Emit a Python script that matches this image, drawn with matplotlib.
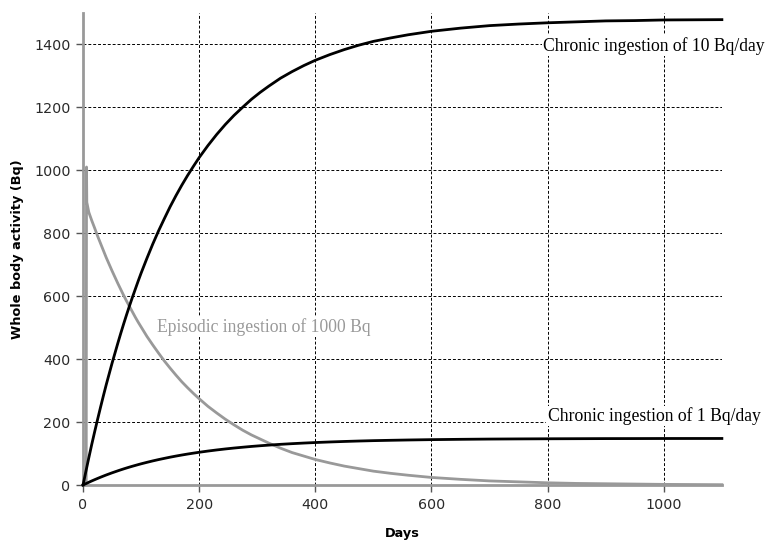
import matplotlib
matplotlib.use("Agg")
import matplotlib.pyplot as plt

days = [0, 5, 10, 15, 20, 25, 30, 35, 40, 45, 50, 55, 60, 65, 70, 75, 80, 85, 90, 95, 100,
        110, 120, 130, 140, 150, 160, 170, 180, 190, 200, 215, 230, 245, 260, 275, 290, 305,
        320, 340, 360, 380, 400, 425, 450, 475, 500, 530, 560, 600, 650, 700, 750, 800,
        850, 900, 950, 1000, 1050, 1100]
chronic10 = [0, 44, 87, 129, 169, 208, 246, 283, 319, 353, 387, 419, 451, 482, 512, 541, 569,
             596, 622, 648, 673, 720, 765, 807, 846, 884, 919, 952, 983, 1012, 1040, 1078, 1113,
             1145, 1174, 1200, 1225, 1247, 1267, 1292, 1313, 1332, 1349, 1367, 1383, 1397, 1409,
             1420, 1430, 1441, 1451, 1459, 1464, 1468, 1471, 1474, 1475, 1477, 1477.5, 1478]
chronic1 = [0, 4.4, 8.7, 12.9, 16.9, 20.8, 24.6, 28.3, 31.9, 35.3, 38.7, 41.9, 45.1, 48.2, 51.2,
            54.1, 56.9, 59.6, 62.2, 64.8, 67.3, 72.0, 76.5, 80.7, 84.6, 88.4, 91.9, 95.2, 98.3,
            101.2, 104, 107.8, 111.3, 114.5, 117.4, 120, 122.5, 124.7, 126.7, 129.2, 131.3, 133.2,
            134.9, 136.7, 138.3, 139.7, 140.9, 142.0, 143.0, 144.1, 145.1, 145.9, 146.4, 146.8,
            147.1, 147.4, 147.5, 147.7, 147.75, 147.8]
epi_days = [0, 5.5, 6, 6.5, 10, 15, 20, 25, 30, 35, 40, 45, 50, 55, 60, 65, 70, 75, 80, 85, 90, 95,
            100, 110, 120, 130, 140, 150, 160, 170, 180, 190, 200, 215, 230, 245, 260, 275, 290,
            305, 320, 340, 360, 380, 400, 425, 450, 475, 500, 530, 560, 600, 650, 700, 750, 800,
            850, 900, 950, 1000, 1050, 1100]
episodic = [0, 0, 1010, 898, 866, 840, 816, 791, 768, 745, 722, 701, 680, 660, 640, 621, 602, 584,
            567, 550, 533, 517, 502, 472, 445, 419, 394, 371, 349, 328, 309, 291, 274, 250, 229,
            209, 191, 174, 159, 146, 133, 117, 103, 92, 81, 70, 60, 52, 44, 37, 31, 24, 18, 13,
            10, 7, 5, 4, 3, 2, 1.5, 1]

xticks = [0, 200, 400, 600, 800, 1000]
yticks = [0, 200, 400, 600, 800, 1000, 1200, 1400]

fig = plt.figure(figsize=(7.66, 5.41), dpi=100)
ax = fig.add_axes([0.1084, 0.1035, 0.834, 0.873])

gray = "#999999"
ax.plot(epi_days, episodic, color=gray, lw=2, zorder=3, clip_on=False)
ax.plot(days, chronic10, color="black", lw=2, zorder=4, clip_on=False)
ax.plot(days, chronic1, color="black", lw=2, zorder=4, clip_on=False)

ax.set_xlim(0, 1100)
ax.set_ylim(0, 1500)
ax.set_xticks(xticks)
ax.set_yticks(yticks)
ax.grid(True, color="black", linestyle=(0, (3, 2)), linewidth=0.7, zorder=1)
ax.set_axisbelow(True)

for s in ["top", "right"]:
    ax.spines[s].set_visible(False)
for s in ["left", "bottom"]:
    ax.spines[s].set_color(gray)
    ax.spines[s].set_linewidth(2)
    ax.spines[s].set_zorder(2)

ax.tick_params(axis="both", direction="out", length=5, width=1, color="#555555",
               labelsize=10.3, labelcolor="#2a2a2a", pad=4)

ax.set_xlabel("Days", fontsize=9.3, fontweight="bold", labelpad=11)
ax.set_ylabel("Whole body activity (Bq)", fontsize=9.3, fontweight="bold", labelpad=7)

bbox = dict(facecolor="white", edgecolor="none", pad=1)
ax.text(792, 1395, "Chronic ingestion of 10 Bq/day", family="Liberation Serif", fontsize=12.7,
        ha="left", va="center", color="black", bbox=bbox, clip_on=False, zorder=5)
ax.text(800, 219, "Chronic ingestion of 1 Bq/day", family="Liberation Serif", fontsize=12.7,
        ha="left", va="center", color="black", bbox=bbox, clip_on=False, zorder=5)
ax.text(127, 502, "Episodic ingestion of 1000 Bq", family="Liberation Serif", fontsize=12.7,
        ha="left", va="center", color=gray, bbox=bbox, clip_on=False, zorder=5)

fig.savefig("out.png", dpi=100)
